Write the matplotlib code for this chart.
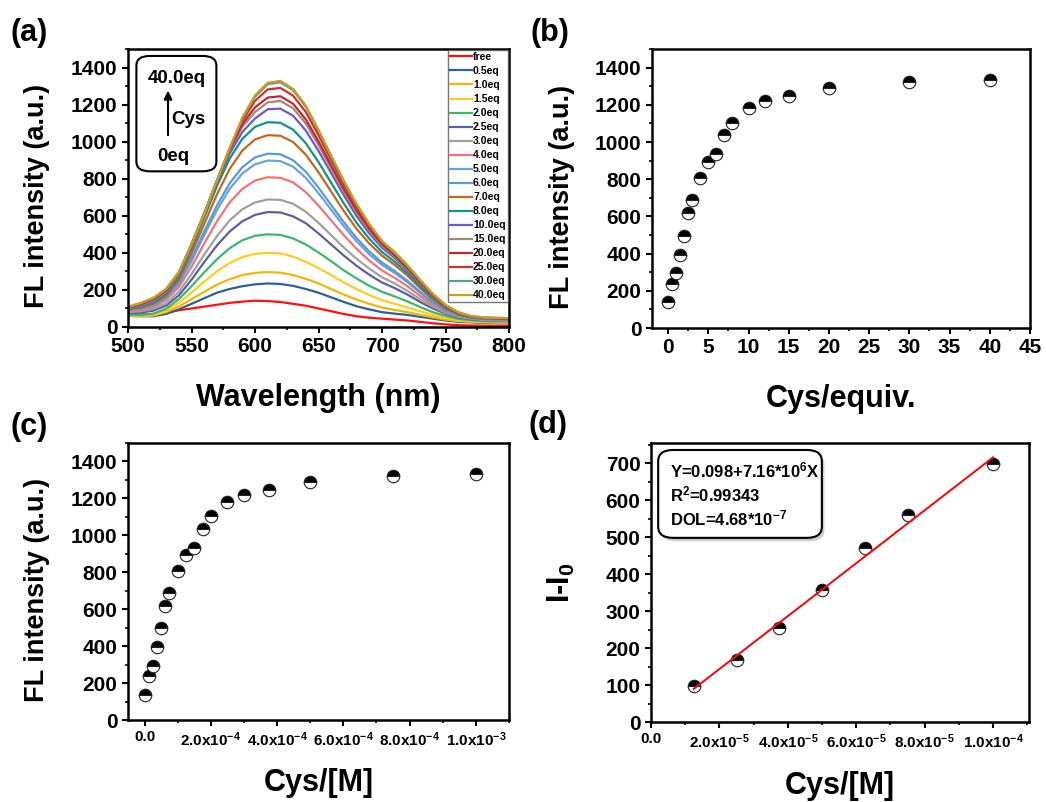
import numpy as np
import matplotlib
matplotlib.use('Agg')
import matplotlib.pyplot as plt
from matplotlib.patches import FancyBboxPatch
from matplotlib.ticker import MultipleLocator

plt.rcParams['font.family'] = ['Liberation Sans', 'DejaVu Sans']
plt.rcParams['font.weight'] = 'bold'
plt.rcParams['axes.labelweight'] = 'bold'
plt.rcParams['mathtext.fontset'] = 'custom'
plt.rcParams['mathtext.rm'] = 'Liberation Sans:bold'
plt.rcParams['mathtext.it'] = 'Liberation Sans:bold'
plt.rcParams['mathtext.bf'] = 'Liberation Sans:bold'
plt.rcParams['mathtext.default'] = 'rm'

# ---- (a) emission spectra, every 10 nm ----
wavelength = [500, 510, 520, 530, 540, 550, 560, 570, 580, 590, 600, 610, 620, 630, 640, 650,
              660, 670, 680, 690, 700, 710, 720, 730, 740, 750, 760, 770, 780, 790, 800]

spec_labels = ['free', '0.5eq', '1.0eq', '1.5eq', '2.0eq', '2.5eq', '3.0eq', '4.0eq', '5.0eq',
               '6.0eq', '7.0eq', '8.0eq', '10.0eq', '15.0eq', '20.0eq', '25.0eq', '30.0eq', '40.0eq']
spec_colors = ['#ff1010', '#2f5f98', '#f2b705', '#ffcc22', '#3cb86a', '#5c5ea8', '#a0a0a0',
               '#f47272', '#6aa2dc', '#5b9bd5', '#c8661a', '#0f9488', '#6a5acd', '#a08878',
               '#c0282d', '#d92b2b', '#5a9a9a', '#c8a020']

I_free = [70, 68, 70, 78, 90, 100, 110, 120, 130, 137, 142, 140, 135, 125, 115, 100,
          85, 70, 58, 50, 45, 40, 35, 28, 20, 14, 10, 8, 7, 6, 6]
I_0p5 = [60, 58, 58, 70, 95, 125, 155, 185, 205, 220, 230, 235, 232, 222, 205, 185,
         160, 135, 112, 95, 80, 72, 65, 55, 45, 35, 28, 25, 22, 20, 20]
I_1p0 = [60, 58, 62, 80, 110, 150, 190, 228, 258, 280, 292, 296, 293, 280, 260, 235,
         205, 175, 148, 125, 105, 92, 80, 66, 52, 40, 32, 28, 25, 24, 24]
I_1p5 = [62, 60, 66, 88, 130, 185, 245, 300, 345, 377, 395, 400, 397, 380, 352, 318,
         280, 240, 205, 172, 145, 125, 105, 85, 65, 50, 38, 32, 28, 26, 26]
I_2p0 = [65, 64, 72, 98, 150, 220, 295, 365, 425, 468, 492, 500, 497, 478, 445, 402,
         355, 305, 262, 222, 190, 165, 138, 108, 80, 60, 44, 36, 32, 30, 30]
I_2p5 = [75, 78, 88, 115, 170, 255, 350, 440, 515, 570, 605, 620, 618, 597, 560, 505,
         445, 385, 330, 282, 240, 210, 175, 135, 100, 72, 52, 42, 36, 34, 33]
I_3p0 = [80, 85, 98, 128, 190, 285, 390, 490, 575, 635, 672, 688, 686, 665, 622, 562,
         495, 428, 368, 315, 268, 235, 195, 150, 110, 78, 56, 45, 38, 36, 35]
I_4p0 = [85, 92, 108, 145, 215, 325, 450, 570, 672, 745, 790, 808, 805, 780, 728, 655,
         575, 495, 422, 358, 305, 265, 220, 168, 120, 85, 60, 47, 40, 38, 37]
I_5p0 = [90, 98, 115, 155, 232, 355, 495, 630, 745, 828, 878, 898, 895, 865, 805, 722,
         632, 543, 462, 392, 335, 292, 242, 185, 130, 90, 63, 49, 42, 40, 39]
I_6p0 = [92, 100, 118, 160, 240, 368, 515, 655, 775, 862, 915, 935, 932, 900, 838, 752,
         658, 565, 480, 408, 348, 302, 250, 190, 134, 92, 64, 50, 43, 41, 40]
I_7p0 = [95, 105, 125, 168, 255, 395, 555, 715, 852, 952, 1012, 1035, 1032, 998, 930, 835,
         730, 625, 530, 450, 385, 335, 277, 210, 148, 100, 68, 52, 45, 43, 42]
I_8p0 = [98, 110, 132, 178, 270, 420, 590, 760, 908, 1015, 1080, 1105, 1102, 1065, 992, 890,
         778, 666, 562, 476, 405, 352, 290, 220, 155, 104, 70, 53, 46, 44, 43]
I_10 = [100, 115, 138, 186, 280, 432, 605, 780, 935, 1052, 1125, 1175, 1178, 1140, 1060, 950,
        830, 710, 598, 505, 428, 372, 306, 232, 163, 108, 73, 55, 47, 45, 44]
I_15 = [102, 118, 142, 192, 285, 440, 608, 785, 950, 1080, 1160, 1212, 1220, 1180, 1098, 982,
        855, 732, 618, 520, 440, 380, 313, 238, 167, 110, 74, 56, 48, 46, 45]
I_20 = [104, 122, 148, 198, 290, 445, 612, 788, 955, 1095, 1185, 1238, 1245, 1205, 1120, 1002,
        872, 745, 630, 530, 448, 387, 318, 242, 170, 112, 75, 57, 49, 47, 46]
I_25 = [106, 126, 152, 202, 294, 446, 612, 790, 960, 1112, 1220, 1282, 1290, 1248, 1160, 1035,
        900, 768, 648, 545, 458, 395, 325, 248, 175, 116, 78, 58, 50, 48, 47]
I_30 = [108, 128, 155, 205, 296, 447, 612, 790, 964, 1125, 1242, 1310, 1320, 1278, 1188, 1058,
        918, 782, 660, 555, 462, 400, 330, 252, 178, 118, 79, 59, 51, 49, 48]
I_40 = [110, 130, 158, 205, 295, 445, 610, 790, 965, 1130, 1250, 1318, 1328, 1285, 1195, 1065,
        925, 790, 665, 555, 465, 405, 335, 255, 180, 120, 80, 60, 52, 50, 48]

spectra = [I_free, I_0p5, I_1p0, I_1p5, I_2p0, I_2p5, I_3p0, I_4p0, I_5p0, I_6p0,
           I_7p0, I_8p0, I_10, I_15, I_20, I_25, I_30, I_40]

# ---- (b)/(c) titration ----
cys_eq = [0, 0.5, 1, 1.5, 2, 2.5, 3, 4, 5, 6, 7, 8, 10, 12, 15, 20, 30, 40]
cys_M = [0, 1.25e-5, 2.5e-5, 3.75e-5, 5e-5, 6.25e-5, 7.5e-5, 1.0e-4, 1.25e-4, 1.5e-4,
         1.75e-4, 2.0e-4, 2.5e-4, 3.0e-4, 3.75e-4, 5.0e-4, 7.5e-4, 1.0e-3]
fl_int = [138, 236, 294, 395, 496, 619, 687, 805, 895, 933, 1037, 1102, 1182, 1220,
          1245, 1290, 1320, 1331]

# ---- (d) linear range ----
lin_x = [1.25e-5, 2.5e-5, 3.75e-5, 5e-5, 6.25e-5, 7.5e-5, 1.0e-4]
lin_y = [97, 167, 255, 356, 470, 559, 698]
fit_x = [1.25e-5, 1.0e-4]
fit_y = [89.6, 716.1]

W, H = 1046, 802
fig = plt.figure(figsize=(W / 100, H / 100), dpi=100)


def px_axes(l, t, r, b):
    return fig.add_axes([l / W, 1 - b / H, (r - l) / W, (b - t) / H])


def style(ax):
    for s in ax.spines.values():
        s.set_linewidth(1.8)
    ax.tick_params(which='major', direction='out', length=4.5, width=1.5, labelsize=15,
                   top=False, right=False, pad=3)
    ax.tick_params(which='minor', direction='out', length=2.5, width=1.2, top=False, right=False)


mk = dict(linestyle='none', marker='o', markersize=9, fillstyle='top', markerfacecolor='black',
          markerfacecoloralt='white', markeredgecolor='#222222', markeredgewidth=0.8)

# (a)
ax1 = px_axes(128, 49, 509, 327)
for y, c, lab in zip(spectra, spec_colors, spec_labels):
    ax1.plot(wavelength, y, color=c, lw=1.6, label=lab)
ax1.set_xlim(500, 800)
ax1.set_ylim(0, 1500)
ax1.set_xticks([500, 550, 600, 650, 700, 750, 800])
ax1.set_yticks(range(0, 1401, 200))
ax1.xaxis.set_minor_locator(MultipleLocator(25))
ax1.yaxis.set_minor_locator(MultipleLocator(100))
style(ax1)
ax1.set_xlabel('Wavelength (nm)', fontsize=22)
ax1.xaxis.set_label_coords(0.5, -0.2)
ax1.set_ylabel('FL intensity (a.u.)', fontsize=19.5)
ax1.yaxis.set_label_coords(-0.205, 0.47)
leg = ax1.legend(loc='upper right', fontsize=7.6, frameon=True, fancybox=False,
                 borderaxespad=0.1, borderpad=0.2, labelspacing=0.38, handlelength=2.1,
                 handletextpad=0.1)
leg.get_frame().set_edgecolor('#555555')
leg.get_frame().set_linewidth(1.0)
box = FancyBboxPatch((0.022, 0.56), 0.21, 0.415, transform=ax1.transAxes,
                     boxstyle='round,pad=0,rounding_size=0.035', fc='white', ec='black',
                     lw=1.5, zorder=5)
ax1.add_patch(box)
ax1.text(0.128, 0.895, '40.0eq', transform=ax1.transAxes, ha='center', va='center',
         fontsize=13.5, zorder=6)
ax1.annotate('', xy=(0.105, 0.86), xytext=(0.105, 0.68), xycoords='axes fraction',
             arrowprops=dict(arrowstyle='-|>', color='black', lw=1.5, mutation_scale=12),
             zorder=6)
ax1.text(0.113, 0.745, 'Cys', transform=ax1.transAxes, ha='left', va='center',
         fontsize=13.5, zorder=6)
ax1.text(0.118, 0.615, '0eq', transform=ax1.transAxes, ha='center', va='center',
         fontsize=13.5, zorder=6)

# (b)
ax2 = px_axes(652, 49, 1030, 328)
ax2.plot(cys_eq, fl_int, **mk)
ax2.set_xlim(-2, 45)
ax2.set_ylim(0, 1500)
ax2.set_xticks(range(0, 46, 5))
ax2.set_yticks(range(0, 1401, 200))
ax2.xaxis.set_minor_locator(MultipleLocator(2.5))
ax2.yaxis.set_minor_locator(MultipleLocator(100))
style(ax2)
ax2.set_xlabel('Cys/equiv.', fontsize=22)
ax2.xaxis.set_label_coords(0.5, -0.2)
ax2.set_ylabel('FL intensity (a.u.)', fontsize=19.5)
ax2.yaxis.set_label_coords(-0.204, 0.47)

# (c)
ax3 = px_axes(128, 443, 509, 720)
ax3.plot(cys_M, fl_int, **mk)
ax3.set_xlim(-5e-5, 1.1e-3)
ax3.set_ylim(0, 1500)
style(ax3)
ax3.set_xticks([0, 2e-4, 4e-4, 6e-4, 8e-4, 1e-3],
               ['0.0', '2.0x10$^{-4}$', '4.0x10$^{-4}$', '6.0x10$^{-4}$', '8.0x10$^{-4}$',
                '1.0x10$^{-3}$'], fontsize=11)
ax3.set_yticks(range(0, 1401, 200))
ax3.xaxis.set_minor_locator(MultipleLocator(1e-4))
ax3.yaxis.set_minor_locator(MultipleLocator(100))
ax3.set_xlabel('Cys/[M]', fontsize=22)
ax3.xaxis.set_label_coords(0.5, -0.175)
ax3.set_ylabel('FL intensity (a.u.)', fontsize=19.5)
ax3.yaxis.set_label_coords(-0.205, 0.47)

# (d)
ax4 = px_axes(651, 443, 1029, 722)
ax4.plot(fit_x, fit_y, color='#ee1111', lw=1.5, zorder=3)
ax4.plot(lin_x, lin_y, zorder=2, **mk)
ax4.set_xlim(0, 1.105e-4)
ax4.set_ylim(0, 755)
style(ax4)
ax4.set_xticks([0, 2e-5, 4e-5, 6e-5, 8e-5, 1e-4],
               ['0.0', '2.0x10$^{-5}$', '4.0x10$^{-5}$', '6.0x10$^{-5}$', '8.0x10$^{-5}$',
                '1.0x10$^{-4}$'], fontsize=11)
ax4.set_yticks(range(0, 701, 100))
ax4.xaxis.set_minor_locator(MultipleLocator(1e-5))
ax4.yaxis.set_minor_locator(MultipleLocator(50))
ax4.set_xlabel('Cys/[M]', fontsize=22)
ax4.xaxis.set_label_coords(0.5, -0.175)
ax4.set_ylabel('I-I$_{0}$', fontsize=22)
ax4.yaxis.set_label_coords(-0.196, 0.5)
shadow = FancyBboxPatch((0.026, 0.648), 0.433, 0.315, transform=ax4.transAxes,
                        boxstyle='round,pad=0,rounding_size=0.04', fc='#cccccc', ec='none',
                        zorder=4)
ax4.add_patch(shadow)
box2 = FancyBboxPatch((0.019, 0.66), 0.433, 0.315, transform=ax4.transAxes,
                      boxstyle='round,pad=0,rounding_size=0.04', fc='white', ec='black',
                      lw=1.5, zorder=5)
ax4.add_patch(box2)
for ty, s in zip([0.903, 0.817, 0.731],
                 ['Y=0.098+7.16*10$^{6}$X', 'R$^{2}$=0.99343', 'DOL=4.68*10$^{-7}$']):
    ax4.text(0.05, ty, s, transform=ax4.transAxes, ha='left', va='center', fontsize=12,
             zorder=6)

# panel letters
for x, y, s in [(10, 33, '(a)'), (530, 33, '(b)'), (10, 427, '(c)'), (528, 425, '(d)')]:
    fig.text(x / W, 1 - y / H, s, ha='left', va='center', fontsize=22)

fig.savefig('out.png', dpi=100)
